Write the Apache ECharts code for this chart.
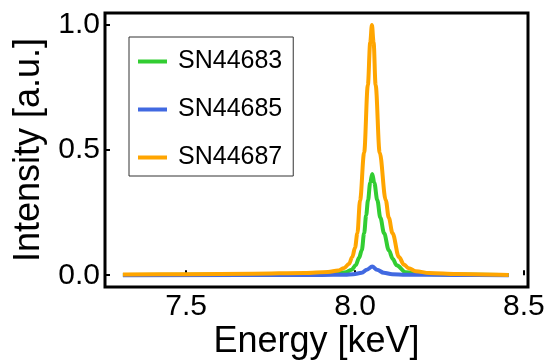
<!DOCTYPE html>
<html>
<head>
<meta charset="utf-8">
<script src="https://cdn.jsdelivr.net/npm/echarts@6/dist/echarts.min.js"></script>
<style>
html,body{margin:0;padding:0;background:#fff;}
#chart{width:552px;height:360px;}
</style>
</head>
<body>
<div id="chart"></div>
<script>
var seriesNames = ['SN44683', 'SN44685', 'SN44687'];
var xTicks = [7.5, 8.0, 8.5];
var yTicks = [0.0, 0.5, 1.0];

var energyGreen = [7.313, 7.9, 7.95, 7.9725, 7.99, 8.002, 8.012, 8.020, 8.027, 8.033, 8.0385, 8.045, 8.051, 8.057, 8.066, 8.075, 8.086, 8.100, 8.112, 8.123, 8.15, 8.2, 8.3, 8.455];
var intensityGreen = [0.001, 0.004, 0.008, 0.012, 0.022, 0.04, 0.07, 0.10, 0.168, 0.24, 0.30, 0.37, 0.405, 0.37, 0.30, 0.23, 0.168, 0.10, 0.065, 0.04, 0.012, 0.005, 0.003, 0.001];

var energyBlue = [7.313, 7.9, 7.97, 7.995, 8.02, 8.035, 8.051, 8.065, 8.085, 8.11, 8.15, 8.3, 8.455];
var intensityBlue = [0.0, 0.001, 0.002, 0.004, 0.01, 0.022, 0.035, 0.022, 0.01, 0.004, 0.002, 0.001, 0.0];

var energyOrange = [7.313, 7.5, 7.7, 7.85, 7.92, 7.95, 7.967, 7.982, 7.992, 8.000, 8.007, 8.015, 8.027, 8.038, 8.045, 8.050, 8.055, 8.061, 8.073, 8.091, 8.100, 8.111, 8.130, 8.145, 8.159, 8.18, 8.22, 8.3, 8.455];
var intensityOrange = [0.003, 0.004, 0.006, 0.009, 0.013, 0.019, 0.028, 0.045, 0.073, 0.11, 0.168, 0.30, 0.49, 0.76, 0.93, 1.0, 0.93, 0.76, 0.49, 0.30, 0.23, 0.168, 0.073, 0.042, 0.028, 0.016, 0.009, 0.005, 0.001];

function zip(xs, ys) { return xs.map(function (x, i) { return [x, ys[i]]; }); }

var colors = ['#32CD32', '#4169E1', '#FFA500'];
var FONT = 'Liberation Sans, Arial, sans-serif';

var chart = echarts.init(document.getElementById('chart'), null, {renderer: 'canvas'});
chart.setOption({
  animation: false,
  color: colors,
  grid: {
    left: 105, right: 24, top: 13, bottom: 73,
    outerBoundsMode: 'none', containLabel: false,
    show: true, borderColor: '#000', borderWidth: 3, backgroundColor: 'transparent'
  },
  legend: {
    orient: 'vertical',
    left: 129, top: 37,
    padding: [12, 11, 6, 9],
    itemGap: 23,
    itemWidth: 29, itemHeight: 4,
    icon: 'rect',
    borderColor: '#333', borderWidth: 1,
    backgroundColor: '#fff',
    textStyle: {fontFamily: FONT, fontSize: 25, color: '#000', padding: [0, 0, 0, 6]},
    data: seriesNames
  },
  xAxis: {
    type: 'value',
    min: 7.26, max: 8.512,
    name: 'Energy [keV]',
    nameLocation: 'middle',
    nameGap: 37,
    nameMoveOverlap: false,
    nameTextStyle: {fontFamily: FONT, fontSize: 36, color: '#000'},
    axisLine: {show: false},
    splitLine: {show: false},
    axisTick: {show: true, inside: true, length: 5, customValues: xTicks, lineStyle: {color: '#000', width: 2}},
    axisLabel: {fontFamily: FONT, fontSize: 30, color: '#000', margin: 5, customValues: xTicks,
      formatter: function (v) { return v.toFixed(1); }}
  },
  yAxis: {
    type: 'value',
    min: -0.047, max: 1.048,
    name: 'Intensity [a.u.]',
    nameLocation: 'middle',
    nameGap: 58,
    nameMoveOverlap: false,
    nameTextStyle: {fontFamily: FONT, fontSize: 36, color: '#000'},
    axisLine: {show: false},
    splitLine: {show: false},
    axisTick: {show: true, inside: true, length: 5, customValues: yTicks, lineStyle: {color: '#000', width: 2}},
    axisLabel: {fontFamily: FONT, fontSize: 30, color: '#000', margin: 5, customValues: yTicks,
      formatter: function (v) { return v.toFixed(1); }}
  },
  series: [
    {name: seriesNames[0], type: 'line', data: zip(energyGreen, intensityGreen), showSymbol: false, symbol: 'none',
      smooth: 0.35, smoothMonotone: 'x', lineStyle: {width: 4, color: colors[0]}},
    {name: seriesNames[1], type: 'line', data: zip(energyBlue, intensityBlue), showSymbol: false, symbol: 'none',
      smooth: 0.35, smoothMonotone: 'x', lineStyle: {width: 4, color: colors[1]}},
    {name: seriesNames[2], type: 'line', data: zip(energyOrange, intensityOrange), showSymbol: false, symbol: 'none',
      smooth: 0.35, smoothMonotone: 'x', lineStyle: {width: 4, color: colors[2]}}
  ]
});
</script>
</body>
</html>
